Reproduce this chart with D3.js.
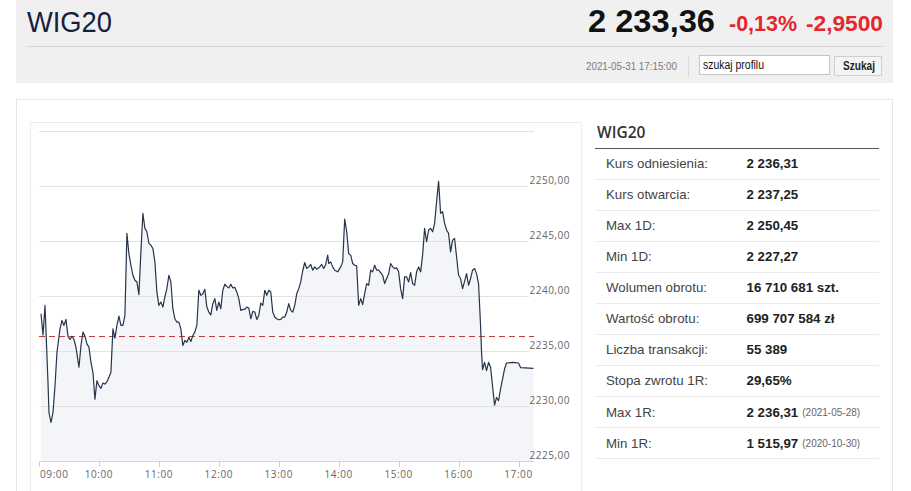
<!DOCTYPE html>
<html>
<head>
<meta charset="utf-8">
<script src="https://cdn.jsdelivr.net/npm/d3@7"></script>
<style>
html,body{margin:0;padding:0;background:#fff;overflow:hidden;}
svg{display:block;}
</style>
</head>
<body>
<svg id="c" width="911" height="491"></svg>
<script>
// ---------- DATA ----------
const times = ["09:02","09:04","09:06","09:09","09:10","09:12","09:14","09:16","09:18","09:21","09:23","09:25","09:27","09:29","09:31","09:33","09:35","09:37","09:40","09:42","09:44","09:46","09:48","09:50","09:52","09:54","09:56","09:58",
"10:00","10:02","10:04","10:06","10:08","10:10","10:12","10:14","10:16","10:18","10:20","10:22","10:24","10:26","10:28","10:30","10:32","10:34","10:36","10:38","10:40","10:42","10:44","10:46","10:48","10:50","10:52","10:54","10:56","10:58",
"11:00","11:02","11:04","11:06","11:08","11:10","11:12","11:14","11:16","11:18","11:20","11:22","11:24","11:26","11:28","11:30","11:32","11:34","11:36","11:38","11:40","11:42","11:44","11:46","11:48","11:50","11:52","11:54","11:56","11:58",
"12:00","12:02","12:04","12:06","12:08","12:10","12:12","12:14","12:16","12:18","12:20","12:22","12:24","12:26","12:28","12:30","12:32","12:34","12:36","12:38","12:40","12:42","12:44","12:46","12:48","12:50","12:52","12:54","12:56","12:58",
"13:00","13:02","13:04","13:06","13:08","13:10","13:12","13:14","13:16","13:18","13:20","13:22","13:24","13:26","13:28","13:30","13:32","13:34","13:36","13:38","13:41","13:43","13:45","13:47","13:49","13:50","13:52","13:54","13:56","13:59",
"14:02","14:04","14:06","14:08","14:10","14:12","14:14","14:16","14:18","14:20","14:22","14:24","14:26","14:28","14:30","14:32","14:34","14:36","14:38","14:40","14:42","14:44","14:46","14:48","14:50","14:52","14:54","14:56","14:58",
"15:00","15:02","15:04","15:06","15:08","15:10","15:12","15:14","15:16","15:18","15:20","15:22","15:24","15:26","15:28","15:30","15:32","15:34","15:36","15:38","15:40","15:42","15:44","15:46","15:48","15:50","15:52","15:54","15:56","15:58",
"16:00","16:02","16:04","16:06","16:08","16:10","16:12","16:14","16:16","16:18","16:20","16:22","16:23","16:24","16:26","16:28","16:30","16:32","16:34","16:36","16:38","16:40","16:42","16:44","16:46","16:48","16:55",
"17:00","17:02","17:15"];
const values = [2238.38,2236.46,2239.15,2232.13,2229.39,2228.48,2229.39,2231.83,2234.88,2237.01,2237.77,2237.32,2237.87,2236.34,2236.04,2236.34,2236.04,2235.34,2233.51,2235.49,2236.71,2236.34,2235.64,2235.34,2233.96,2233.05,2230.61,2232.29,
2231.83,2231.59,2232.07,2231.98,2232.20,2232.59,2233.05,2237.01,2236.16,2237.32,2238.17,2237.32,2237.32,2238.23,2245.70,2243.87,2242.80,2241.89,2241.43,2241.28,2240.12,2244.02,2247.53,2246.16,2245.85,2244.79,2244.63,2244.33,2243.11,2240.37,
2239.15,2239.45,2238.99,2239.91,2240.67,2241.89,2241.28,2238.84,2237.93,2237.62,2237.62,2237.01,2235.49,2235.95,2235.79,2236.25,2235.85,2236.40,2236.71,2237.32,2240.52,2240.06,2240.21,2240.61,2238.99,2238.54,2238.29,2239.30,2239.76,2238.69,
2239.45,2238.84,2240.52,2241.07,2240.88,2240.73,2241.07,2240.73,2240.79,2240.37,2239.76,2238.69,2238.78,2238.78,2238.99,2238.90,2237.93,2238.60,2238.54,2237.87,2238.23,2239.36,2239.15,2240.52,2240.06,2240.52,2240.37,2238.54,2238.08,2237.93,
2237.84,2237.87,2238.08,2238.08,2238.54,2239.30,2238.69,2238.54,2239.15,2240.21,2240.67,2241.28,2242.30,2243.05,2242.50,2242.65,2242.87,2242.35,2242.65,2242.44,2242.65,2242.87,2242.50,2242.87,2243.72,2242.96,2243.11,2242.65,2242.35,2242.20,
2242.65,2243.11,2247.01,2245.85,2243.87,2243.72,2242.96,2242.80,2242.74,2239.15,2239.76,2239.21,2240.21,2241.13,2240.98,2242.35,2242.20,2242.80,2242.35,2242.35,2242.13,2241.89,2241.13,2241.59,2242.04,2242.96,2242.65,2242.50,2242.56,
2242.20,2240.67,2239.76,2241.74,2241.74,2241.28,2242.13,2241.13,2240.98,2242.20,2242.65,2242.20,2243.72,2246.16,2244.94,2246.01,2246.16,2245.85,2246.62,2248.60,2250.45,2247.53,2247.68,2246.62,2246.01,2245.70,2244.02,2245.09,2245.24,2243.57,
2241.89,2241.59,2240.67,2241.34,2242.04,2240.98,2241.59,2242.35,2242.50,2242.04,2241.13,2237.32,2234.88,2233.29,2233.96,2233.20,2233.96,2233.51,2231.83,2230.06,2230.76,2230.46,2231.52,2232.44,2233.35,2233.90,2233.96,
2233.90,2233.48,2233.40];
const referencePrice = 2236.31;
const yTicks = [2225,2230,2235,2240,2245,2250,2255];
const yLabelTicks = [2225,2230,2235,2240,2245,2250];
const xTickLabels = ["09:00","10:00","11:00","12:00","13:00","14:00","15:00","16:00","17:00"];
const sessionStart = "09:00", sessionEnd = "17:15";

const headerTitle = "WIG20";
const lastPrice = "2 233,36";
const changePct = "-0,13%";
const changeAbs = "-2,9500";
const stamp = "2021-05-31 17:15:00";

const rowLabels = ["Kurs odniesienia:","Kurs otwarcia:","Max 1D:","Min 1D:","Wolumen obrotu:","Wartość obrotu:","Liczba transakcji:","Stopa zwrotu 1R:","Max 1R:","Min 1R:"];
const rowValues = ["2 236,31","2 237,25","2 250,45","2 227,27","16 710 681 szt.","699 707 584 zł","55 389","29,65%","2 236,31","1 515,97"];
const rowNotes = ["","","","","","","","","(2021-05-28)","(2020-10-30)"];

// ---------- DRAW ----------
const svg = d3.select("#c");
const narrow = "'Liberation Sans Narrow','Arial Narrow','Liberation Sans',Arial,sans-serif";
const arial = "'Liberation Sans',Arial,sans-serif";
const open = "'Open Sans','Noto Sans',sans-serif";

// header band
svg.append("rect").attr("x",16).attr("y",0).attr("width",877).attr("height",83).attr("fill","#f0f0f0");
svg.append("line").attr("x1",27).attr("x2",883).attr("y1",46.5).attr("y2",46.5).attr("stroke","#d6d6d6");
svg.append("text").attr("x",27).attr("y",32).attr("font-family",narrow).attr("font-size",30)
  .attr("fill","#15223f").attr("textLength",85).attr("lengthAdjust","spacingAndGlyphs").text(headerTitle);
svg.append("text").attr("x",588).attr("y",32).attr("font-family",narrow).attr("font-size",31).attr("font-weight","bold")
  .attr("fill","#111").attr("textLength",127).attr("lengthAdjust","spacingAndGlyphs").text(lastPrice);
svg.append("text").attr("x",729).attr("y",31).attr("font-family",narrow).attr("font-size",22).attr("font-weight","bold")
  .attr("fill","#e3262f").attr("textLength",68).attr("lengthAdjust","spacingAndGlyphs").text(changePct);
svg.append("text").attr("x",806).attr("y",31).attr("font-family",narrow).attr("font-size",22).attr("font-weight","bold")
  .attr("fill","#e3262f").attr("textLength",77).attr("lengthAdjust","spacingAndGlyphs").text(changeAbs);
svg.append("text").attr("x",586).attr("y",70).attr("font-family",narrow).attr("font-size",11)
  .attr("fill","#7a7a7a").attr("textLength",91).attr("lengthAdjust","spacingAndGlyphs").text(stamp);
svg.append("line").attr("x1",688.5).attr("x2",688.5).attr("y1",55).attr("y2",77).attr("stroke","#dcdcdc");
svg.append("rect").attr("x",699.5).attr("y",55.5).attr("width",130).attr("height",19).attr("fill","#fff").attr("stroke","#c4c4c4");
svg.append("text").attr("x",703).attr("y",69).attr("font-family",narrow).attr("font-size",12.5)
  .attr("fill","#111").attr("textLength",61).attr("lengthAdjust","spacingAndGlyphs").text("szukaj profilu");
svg.append("rect").attr("x",834.5).attr("y",56.5).attr("width",47).attr("height",19).attr("fill","#f4f4f4").attr("stroke","#cfcfcf");
svg.append("text").attr("x",843).attr("y",70).attr("font-family",narrow).attr("font-size",12).attr("font-weight","bold")
  .attr("fill","#222").attr("textLength",32).attr("lengthAdjust","spacingAndGlyphs").text("Szukaj");

// panels
svg.append("rect").attr("x",16.5).attr("y",99.5).attr("width",876).attr("height",400).attr("fill","#fff").attr("stroke","#e6e6e6");
svg.append("rect").attr("x",30.5).attr("y",122.5).attr("width",551).attr("height",380).attr("fill","#fff").attr("stroke","#ececec");

// chart
const parse = d3.timeParse("%H:%M");
const data = times.map((t,i)=>({t:parse(t), v:values[i]}));
const x = d3.scaleTime().domain([parse(sessionStart), parse(sessionEnd)]).range([39, 533.5]);
const y = d3.scaleLinear().domain([2225, 2255]).range([460.7, 131.3]);

const g = svg.append("g");
g.append("path").datum(data)
  .attr("d", d3.area().x(d=>x(d.t)).y0(y(2225)).y1(d=>y(d.v)))
  .attr("fill","#f3f5f8");

// gridlines
g.selectAll("line.grid").data(yTicks).join("line").attr("class","grid")
  .attr("x1",39).attr("x2",d=> (d===2255||d===2225) ? 534 : 529)
  .attr("y1",d=>Math.round(y(d))+0.5).attr("y2",d=>Math.round(y(d))+0.5)
  .attr("stroke",d=> d===2225 ? "#d4d4d4" : "#e2e2e2").attr("stroke-width",1);

// y labels
g.selectAll("text.yl").data(yLabelTicks).join("text").attr("class","yl")
  .attr("x",529.5).attr("y",d=>y(d)-2)
  .attr("font-family",open).attr("font-size",10).attr("letter-spacing","0.5px").attr("fill","#666")
  .text(d=>d3.format(".2f")(d).replace(".",","));

// x axis ticks + labels
const xt = xTickLabels.map(parse);
g.selectAll("line.xt").data(xt).join("line").attr("class","xt")
  .attr("x1",d=>Math.round(x(d))+0.5).attr("x2",d=>Math.round(x(d))+0.5)
  .attr("y1",461).attr("y2",467).attr("stroke","#cfcfcf");
g.selectAll("text.xl").data(xt).join("text").attr("class","xl")
  .attr("x",(d,i)=> i===0 ? x(d)+1 : x(d))
  .attr("y",478)
  .attr("text-anchor",(d,i)=> i===0 ? "start" : "middle")
  .attr("font-family",open).attr("font-size",10).attr("letter-spacing","0.6px").attr("fill","#666")
  .text(d=>d3.timeFormat("%H:%M")(d));

// reference dashed line
g.append("line").attr("x1",39).attr("x2",534).attr("y1",y(referencePrice)).attr("y2",y(referencePrice))
  .attr("stroke","#c23b3b").attr("stroke-width",1).attr("stroke-dasharray","6,4");

// price line
g.append("path").datum(data)
  .attr("d", d3.line().x(d=>x(d.t)).y(d=>y(d.v)))
  .attr("fill","none").attr("stroke","#26344a").attr("stroke-width",1.2).attr("stroke-linejoin","round");

// table
const tb = svg.append("g");
tb.append("text").attr("x",597).attr("y",138).attr("font-family",open).attr("font-size",15.5).attr("font-weight",600)
  .attr("fill","#333").text(headerTitle);
tb.append("line").attr("x1",595).attr("x2",879).attr("y1",148.5).attr("y2",148.5).attr("stroke","#555");
const rowStep = 31.05;
rowLabels.forEach((lab,i)=>{
  const cy = 163.3 + rowStep*i;
  tb.append("text").attr("x",606).attr("y",cy+4.8).attr("font-family",arial).attr("font-size",13.3)
    .attr("fill","#444").text(lab);
  const vt = tb.append("text").attr("x",746.5).attr("y",cy+4.8).attr("font-family",arial).attr("font-size",13.3)
    .attr("font-weight","bold").attr("fill","#222").text(rowValues[i]);
  if (rowNotes[i]) {
    const w = vt.node().getComputedTextLength();
    tb.append("text").attr("x",746.5+w+4).attr("y",cy+4.5).attr("font-family",arial).attr("font-size",10)
      .attr("fill","#666").text(rowNotes[i]);
  }
  const sy = Math.round(179 + rowStep*i)+0.5;
  tb.append("line").attr("x1",595).attr("x2",879).attr("y1",sy).attr("y2",sy).attr("stroke","#ececec");
});
</script>
</body>
</html>
